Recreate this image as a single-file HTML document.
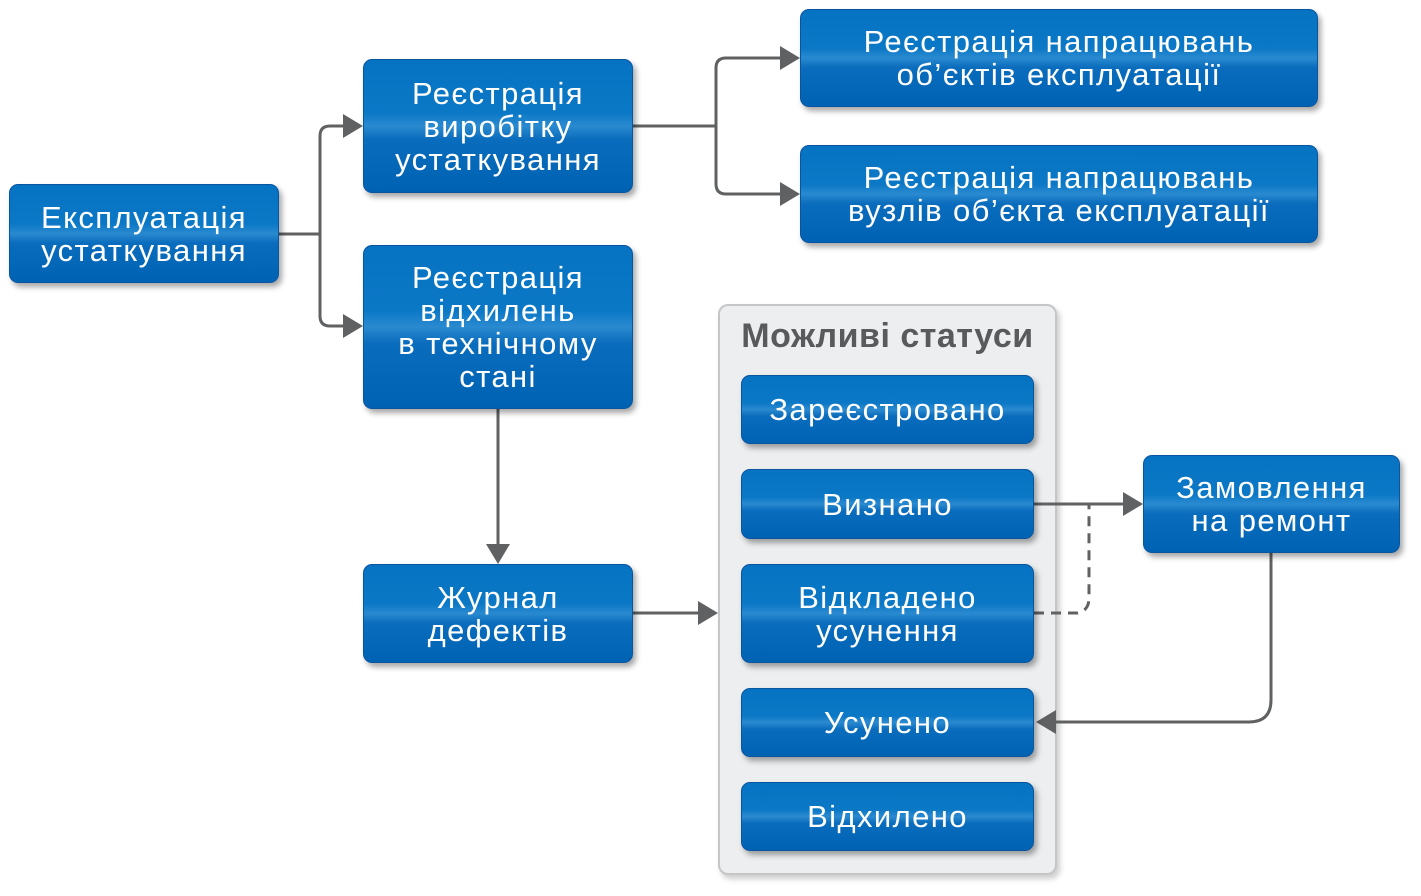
<!DOCTYPE html>
<html><head><meta charset="utf-8"><style>
body{margin:0;width:1421px;height:896px;background:#fff;position:relative;overflow:hidden;font-family:"Liberation Sans",sans-serif}
.b{position:absolute;box-sizing:border-box;border-radius:9px;border:1px solid #0a55a0;background:linear-gradient(#0673c2 0%,#0b78c6 40%,#2a8ad0 50%,#0a6cbc 60%,#0062b2 100%);box-shadow:3px 4px 6px rgba(0,0,0,.35);color:#fff;display:flex;align-items:center;justify-content:center;text-align:center;font-size:31px;line-height:33px;letter-spacing:1.4px}
.p{position:absolute;left:718px;top:304px;width:339px;height:571px;box-sizing:border-box;background:#eceeef;border:2px solid #c4c6c8;border-radius:10px;box-shadow:3px 4px 6px rgba(0,0,0,.2)}
.t{position:absolute;left:718px;top:317px;width:339px;text-align:center;font-weight:bold;font-size:34px;letter-spacing:.5px;color:#585a5c}
svg{position:absolute;left:0;top:0}
</style></head><body>
<div class="p"></div>
<div class="t">Можливі статуси</div>
<svg width="1421" height="896"><g fill="none" stroke="#606163" stroke-width="3">
<path d="M279 234H320M320 234V136Q320 126 330 126H346M320 234V316Q320 326 330 326H346"/>
<path d="M633 126H716M716 126V68Q716 58 726 58H783M716 126V184Q716 194 726 194H783"/>
<path d="M498 409V546"/>
<path d="M633 613H700"/>
<path d="M1034 504H1126"/>
<path d="M1034 613H1077Q1089 611 1089 598V504" stroke-dasharray="10 7"/>
<path d="M1271 553V700Q1271 722 1249 722H1055"/>
</g><g fill="#606163">
<path d="M363 126L343 114V138Z"/><path d="M363 326L343 314V338Z"/>
<path d="M800 58L780 46V70Z"/><path d="M800 194L780 182V206Z"/>
<path d="M498 564L486 544H510Z"/>
<path d="M718 613L698 601V625Z"/>
<path d="M1143 504L1123 492V516Z"/>
<path d="M1036 722L1056 710V734Z"/>
</g></svg>
<div class="b" style="left:9px;top:184px;width:270px;height:99px">Експлуатація<br>устаткування</div>
<div class="b" style="left:363px;top:59px;width:270px;height:134px">Реєстрація<br>виробітку<br>устаткування</div>
<div class="b" style="left:363px;top:245px;width:270px;height:164px">Реєстрація<br>відхилень<br>в технічному<br>стані</div>
<div class="b" style="left:800px;top:9px;width:518px;height:98px">Реєстрація напрацювань<br>об’єктів експлуатації</div>
<div class="b" style="left:800px;top:145px;width:518px;height:98px">Реєстрація напрацювань<br>вузлів об’єкта експлуатації</div>
<div class="b" style="left:363px;top:564px;width:270px;height:99px">Журнал<br>дефектів</div>
<div class="b" style="left:741px;top:375px;width:293px;height:69px">Зареєстровано</div>
<div class="b" style="left:741px;top:469px;width:293px;height:70px">Визнано</div>
<div class="b" style="left:741px;top:564px;width:293px;height:99px">Відкладено<br>усунення</div>
<div class="b" style="left:741px;top:688px;width:293px;height:69px">Усунено</div>
<div class="b" style="left:741px;top:782px;width:293px;height:69px">Відхилено</div>
<div class="b" style="left:1143px;top:455px;width:257px;height:98px">Замовлення<br>на ремонт</div>
</body></html>
